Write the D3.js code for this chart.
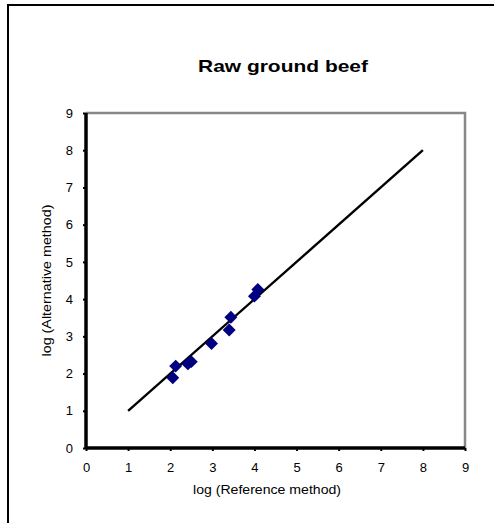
<!DOCTYPE html>
<html>
<head>
<meta charset="utf-8">
<script src="https://cdn.jsdelivr.net/npm/d3@7"></script>
<style>
  html, body { margin: 0; padding: 0; background: #fff; }
  svg { display: block; font-family: Arial, "Liberation Sans", sans-serif; }
</style>
</head>
<body>
<svg id="chart" width="494" height="523"></svg>
<script>
// Measurements: log counts, reference vs alternative method
const refLog = [2.06, 2.13, 2.42, 2.50, 2.98, 3.40, 3.44, 4.00, 4.08];
const altLog = [1.89, 2.20, 2.26, 2.32, 2.81, 3.17, 3.51, 4.08, 4.26];
// Line of equality drawn between these two points
const lineX = [1, 8];
const lineY = [1, 8];
const ticks = [0, 1, 2, 3, 4, 5, 6, 7, 8, 9];

const titleText = "Raw ground beef";
const xTitle = "log (Reference method)";
const yTitle = "log (Alternative method)";

const svg = d3.select("#chart");
const plot = { left: 86, right: 465, top: 113, bottom: 448 };

const x = d3.scaleLinear().domain([0, 9]).range([plot.left, plot.right]);
const y = d3.scaleLinear().domain([0, 9]).range([plot.bottom, plot.top]);

// Outer chart frame
svg.append("rect")
  .attr("x", 8).attr("y", 5)
  .attr("width", 500).attr("height", 530)
  .attr("fill", "none").attr("stroke", "#000").attr("stroke-width", 2);

// Title
svg.append("text")
  .attr("x", 283).attr("y", 71.5)
  .attr("text-anchor", "middle")
  .attr("font-size", 17).attr("font-weight", "bold")
  .attr("textLength", 170).attr("lengthAdjust", "spacingAndGlyphs")
  .text(titleText);

// Plot area border (top and right in grey)
svg.append("path")
  .attr("d", `M${plot.left},${plot.top}H${plot.right}V${plot.bottom}`)
  .attr("fill", "none").attr("stroke", "#888").attr("stroke-width", 2.5);

// Axes
const xAxis = d3.axisBottom(x).tickValues(ticks).tickSize(3).tickPadding(12);
const yAxis = d3.axisLeft(y).tickValues(ticks).tickSize(3).tickPadding(10);

const gx = svg.append("g").attr("transform", `translate(0,${plot.bottom})`).call(xAxis);
const gy = svg.append("g").attr("transform", `translate(${plot.left},0)`).call(yAxis);

[gx, gy].forEach(g => {
  g.select(".domain").attr("stroke", "#000").attr("stroke-width", 3.5);
  g.selectAll(".tick line").attr("stroke", "#000").attr("stroke-width", 2);
  g.selectAll(".tick text")
    .attr("font-size", 13)
    .attr("font-family", "Arial, 'Liberation Sans', sans-serif")
    .attr("fill", "#000");
});
gx.select(".domain").attr("d", `M${plot.left},0H${plot.right}`);
gy.select(".domain").attr("d", `M0,${plot.bottom}V${plot.top}`);

// Axis titles
svg.append("text")
  .attr("x", 267).attr("y", 494)
  .attr("text-anchor", "middle")
  .attr("font-size", 12.5)
  .attr("textLength", 148).attr("lengthAdjust", "spacingAndGlyphs")
  .text(xTitle);

svg.append("text")
  .attr("transform", `translate(51,${(plot.top + plot.bottom) / 2}) rotate(-90)`)
  .attr("text-anchor", "middle")
  .attr("font-size", 12.5)
  .attr("textLength", 152).attr("lengthAdjust", "spacingAndGlyphs")
  .text(yTitle);

// Line of equality
svg.append("line")
  .attr("x1", x(lineX[0])).attr("y1", y(lineY[0]))
  .attr("x2", x(lineX[1])).attr("y2", y(lineY[1]))
  .attr("stroke", "#000").attr("stroke-width", 2.4);

// Data points as diamonds
const diamond = d3.symbol().type(d3.symbolSquare).size(84);
svg.append("g").selectAll("path")
  .data(refLog.map((v, i) => [v, altLog[i]]))
  .join("path")
  .attr("d", diamond)
  .attr("transform", d => `translate(${x(d[0])},${y(d[1])}) rotate(45)`)
  .attr("fill", "#000080");
</script>
</body>
</html>
